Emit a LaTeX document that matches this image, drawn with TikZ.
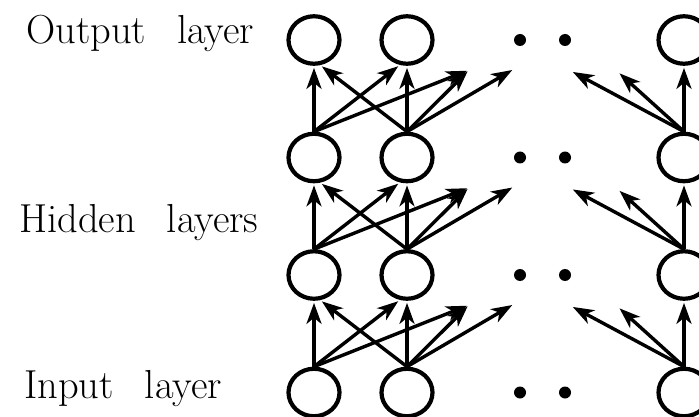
\documentclass[tikz,border=0pt]{standalone}
\usepackage{fontspec}
\usepackage{tikz}
\usetikzlibrary{arrows.meta, positioning, calc, shapes.geometric}
\newcommand{\layerfont}{\fontsize{40.5}{46}\selectfont\addfontfeatures{FakeBold=1.5}\spaceskip=31pt\relax}

\begin{document}
\begin{tikzpicture}[
    x=1pt, y=-1pt,
    on grid,
    neuron/.style={ellipse, draw=black, line width=4.2pt, minimum width=51pt, minimum height=47.5pt, inner sep=0pt},
    dot/.style={circle, fill=black, minimum size=12pt, inner sep=0pt},
    layername/.style={anchor=base west, inner sep=0pt, font=\layerfont},
    arr/.style={-{Stealth[length=21pt, width=15pt, inset=6pt]}, line width=3.4pt, shorten >=2pt}
]
    \useasboundingbox (0,0) rectangle (699,417);

    % Layer names
    \node (lblOut) [layername] at (26,44) {Output layer};
    \node (lblHid) [layername] at (19,233) {Hidden layers};
    \node (lblIn) [layername] at (24,398) {Input layer};

    % Output layer
    \node (out1) [neuron] at (314,40) {};
    \node (out2) [neuron, right=93pt of out1] {};
    \node (out3) [neuron, right=370pt of out1] {};
    \node (outDotA) [dot, right=206pt of out1] {};
    \node (outDotB) [dot, right=251pt of out1] {};

    % Hidden layers
    \node (hB1) [neuron, below=117.5pt of out1] {};
    \node (hB2) [neuron, right=93pt of hB1] {};
    \node (hB3) [neuron, right=370pt of hB1] {};
    \node (hBDotA) [dot, right=206pt of hB1] {};
    \node (hBDotB) [dot, right=251pt of hB1] {};

    \node (hA1) [neuron, below=117.5pt of hB1] {};
    \node (hA2) [neuron, right=93pt of hA1] {};
    \node (hA3) [neuron, right=370pt of hA1] {};
    \node (hADotA) [dot, right=206pt of hA1] {};
    \node (hADotB) [dot, right=251pt of hA1] {};

    % Input layer
    \node (in1) [neuron, below=117.5pt of hA1] {};
    \node (in2) [neuron, right=93pt of in1] {};
    \node (in3) [neuron, right=370pt of in1] {};
    \node (inDotA) [dot, right=206pt of in1] {};
    \node (inDotB) [dot, right=251pt of in1] {};

    % Connections, same for every pair of layers
    \foreach \lo/\up in {in/hA, hA/hB, hB/out} {
        \coordinate (\up-a) at ($(\up1)+(155,30)$);
        \coordinate (\up-b) at ($(\up1)+(200,29)$);
        \coordinate (\up-c) at ($(\up1)+(257,31)$);
        \coordinate (\up-d) at ($(\up1)+(304,32)$);

        \draw [arr] (\lo1.north) -- (\up1.south);
        \draw [arr] (\lo1.north) -- (\up2.-106);
        \draw [arr] (\lo1.north) -- (\up-a);

        \draw [arr] (\lo2.north) -- (\up1.-76);
        \draw [arr] (\lo2.north) -- (\up2.south);
        \draw [arr] (\lo2.north) -- (\up-a);
        \draw [arr] (\lo2.north) -- (\up-b);

        \draw [arr] (\lo3.north) -- (\up-c);
        \draw [arr] (\lo3.north) -- (\up-d);
        \draw [arr] (\lo3.north) -- (\up3.south);
    }
\end{tikzpicture}
\end{document}
